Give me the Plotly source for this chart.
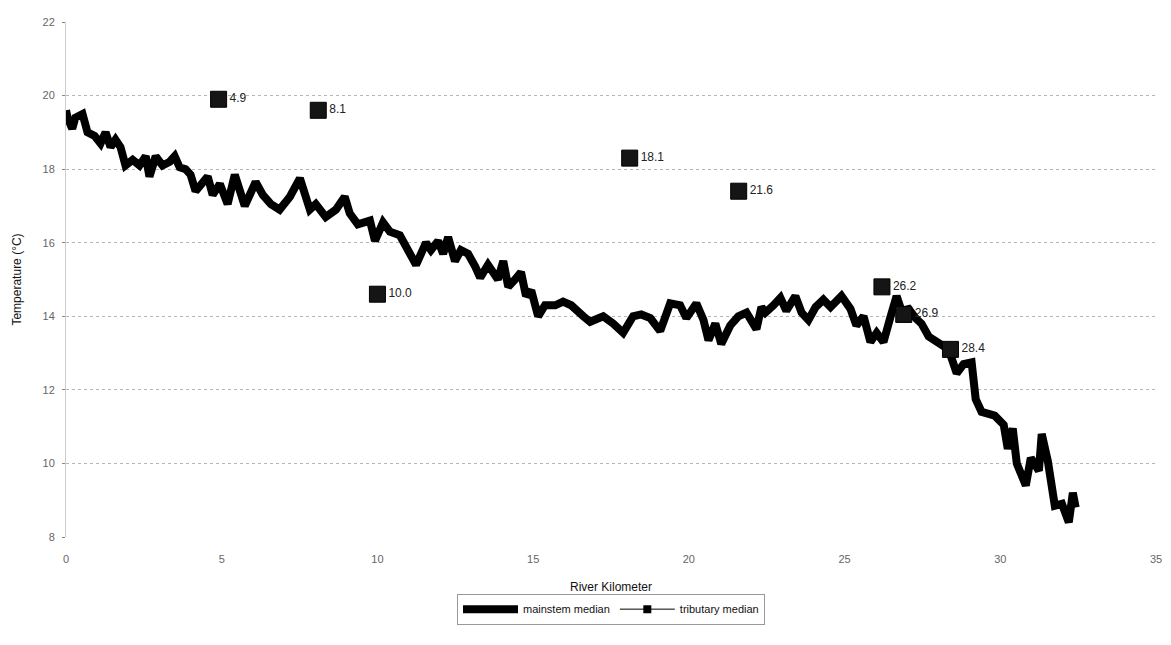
import plotly.graph_objects as go

# Mainstem median temperature along river (km, degC)
main_km = [0.0, 0.05, 0.2, 0.3, 0.53, 0.69, 0.92, 1.11, 1.27, 1.43, 1.59, 1.75, 1.91, 2.14, 2.36,
           2.56, 2.68, 2.88, 3.10, 3.33, 3.49, 3.65, 3.84, 4.0, 4.16, 4.55, 4.71, 4.94, 5.19, 5.42,
           5.74, 6.09, 6.32, 6.58, 6.86, 7.19, 7.51, 7.83, 8.02, 8.34, 8.67, 8.95, 9.11, 9.37, 9.76,
           9.92, 10.18, 10.4, 10.72, 11.04, 11.24, 11.56, 11.72, 11.95, 12.11, 12.27, 12.49, 12.68,
           12.91, 13.14, 13.3, 13.55, 13.87, 14.04, 14.2, 14.42, 14.61, 14.77, 14.94, 15.16, 15.38,
           15.71, 15.96, 16.22, 16.45, 16.61, 16.83, 17.25, 17.57, 17.89, 18.21, 18.47, 18.76, 19.08,
           19.4, 19.72, 19.92, 20.24, 20.47, 20.63, 20.85, 21.04, 21.33, 21.59, 21.85, 22.17, 22.33,
           22.46, 22.72, 22.94, 23.13, 23.42, 23.62, 23.84, 24.07, 24.32, 24.55, 24.9, 25.19, 25.38,
           25.61, 25.83, 26.03, 26.25, 26.48, 26.67, 26.83, 27.06, 27.28, 27.47, 27.7, 28.02, 28.34,
           28.6, 28.82, 29.08, 29.21, 29.4, 29.82, 30.11, 30.24, 30.4, 30.53, 30.82, 30.98, 31.24,
           31.33, 31.53, 31.75, 31.98, 32.2, 32.33, 32.42]
main_temp = [19.6, 19.4, 19.1, 19.4, 19.5, 19.0, 18.9, 18.7, 19.0, 18.6, 18.8, 18.6, 18.1, 18.25, 18.1,
             18.35, 17.8, 18.35, 18.1, 18.2, 18.35, 18.05, 18.0, 17.85, 17.4, 17.8, 17.3, 17.6, 17.05, 17.85,
             17.0, 17.65, 17.3, 17.05, 16.9, 17.25, 17.75, 16.9, 17.05, 16.7, 16.9, 17.25, 16.8, 16.5, 16.6,
             16.05, 16.55, 16.3, 16.2, 15.7, 15.4, 16.0, 15.8, 16.05, 15.7, 16.15, 15.5, 15.8,
             15.7, 15.35, 15.05, 15.4, 15.0, 15.5, 14.8, 15.0, 15.2, 14.55, 14.7, 14.0, 14.3,
             14.3, 14.4, 14.3, 14.1, 14.0, 13.85, 14.0, 13.8, 13.55, 14.0, 14.05, 13.95, 13.6,
             14.35, 14.3, 13.95, 14.35, 13.9, 13.35, 13.8, 13.25, 13.75, 14.0, 14.1, 13.65, 14.25,
             14.1, 14.3, 14.5, 14.15, 14.55, 14.1, 13.9, 14.25, 14.45, 14.25, 14.55, 14.2, 13.75,
             14.0, 13.3, 13.55, 13.3, 14.0, 14.55, 14.15, 14.2, 13.95, 13.8, 13.45, 13.3, 13.1,
             12.45, 12.7, 12.75, 11.75, 11.4, 11.3, 11.05, 10.4, 10.95, 10.0, 9.4, 10.15, 9.8,
             10.8, 10.05, 8.85, 8.9, 8.4, 9.2, 8.8]

# Tributary median temperatures
trib_km = [4.9, 8.1, 10.0, 18.1, 21.6, 26.2, 26.9, 28.4]
trib_temp = [19.9, 19.6, 14.6, 18.3, 17.4, 14.8, 14.05, 13.1]
trib_labels = ["4.9", "8.1", "10.0", "18.1", "21.6", "26.2", "26.9", "28.4"]

x_ticks = [0, 5, 10, 15, 20, 25, 30, 35]
y_ticks = [8, 10, 12, 14, 16, 18, 20, 22]

FONT = "Liberation Sans, Arial, sans-serif"

fig = go.Figure()
fig.add_trace(go.Scatter(
    x=main_km, y=main_temp, mode="lines", name="mainstem median",
    line=dict(color="#000000", width=8),
))
fig.add_trace(go.Scatter(
    x=trib_km, y=trib_temp, mode="markers+text", name="tributary median",
    showlegend=False,
    marker=dict(symbol="square", size=16, color="#151515", line=dict(color="#000", width=1)),
    text=trib_labels, textposition="middle right",
    textfont=dict(family=FONT, size=12, color="#222"),
))
# legend entry for the tributary series (line + square marker)
fig.add_trace(go.Scatter(
    x=[None], y=[None], mode="lines+markers", name="tributary median",
    line=dict(color="#000", width=1),
    marker=dict(symbol="square", size=8, color="#000"),
))

fig.update_layout(
    width=1171, height=645,
    margin=dict(l=56, r=23, t=8, b=116),
    paper_bgcolor="white", plot_bgcolor="white",
    font=dict(family=FONT, size=11, color="#555"),
    showlegend=True,
    legend=dict(
        orientation="h", x=0.5, xanchor="center", y=-0.11, yanchor="top",
        bordercolor="#999", borderwidth=1, bgcolor="white",
        font=dict(family=FONT, size=11, color="#111"),
        itemwidth=55, tracegroupgap=0,
    ),
)
fig.update_xaxes(
    range=[0, 35], tickvals=x_ticks, ticktext=[str(v) for v in x_ticks],
    showgrid=False, zeroline=False, showline=False, ticks="",
    ticklabelstandoff=14,
    tickfont=dict(family=FONT, size=11, color="#666"),
    title=dict(text="River Kilometer", font=dict(family=FONT, size=12, color="#111"), standoff=18),
)
fig.update_yaxes(
    range=[8, 22], tickvals=y_ticks, ticktext=[str(v) for v in y_ticks],
    showgrid=True, gridcolor="#b5b5b5", griddash="dot", gridwidth=1,
    zeroline=False, showline=True, linecolor="#cccccc", linewidth=1,
    ticks="outside", ticklen=3, tickcolor="#888",
    ticklabelstandoff=5,
    tickfont=dict(family=FONT, size=11, color="#666"),
    title=dict(text="Temperature (°C)", font=dict(family=FONT, size=12, color="#111"), standoff=18),
)

fig.write_html("out.html")
